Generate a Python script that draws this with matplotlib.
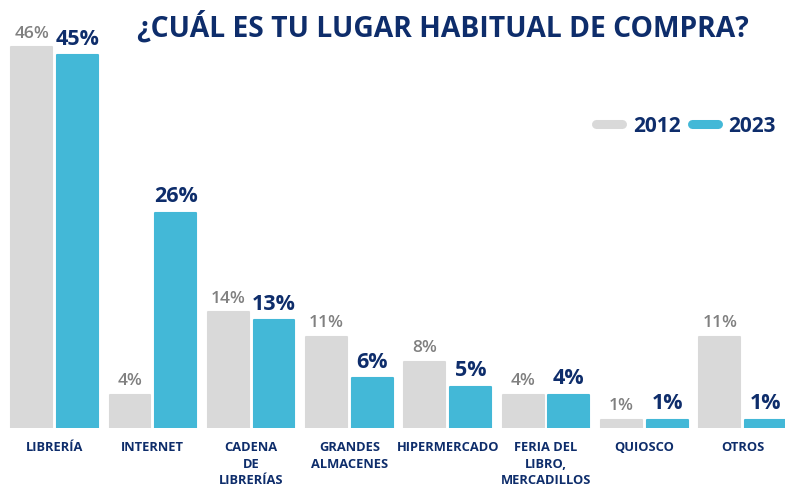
import numpy as np
import matplotlib.pyplot as plt
import matplotlib.transforms as mtransforms
from matplotlib.lines import Line2D

plt.rcParams['font.family'] = ['Open Sans', 'DejaVu Sans']

categories = ['LIBRERÍA', 'INTERNET', 'CADENA\nDE\nLIBRERÍAS', 'GRANDES\nALMACENES',
              'HIPERMERCADO', 'FERIA DEL\nLIBRO,\nMERCADILLOS', 'QUIOSCO', 'OTROS']
vals_2012 = [46, 4, 14, 11, 8, 4, 1, 11]
vals_2023 = [45, 26, 13, 6, 5, 4, 1, 1]

navy = '#0e2d6b'
grey = '#d9d9d9'
blue = '#43b8d7'
grey_txt = '#808080'

fig = plt.figure(figsize=(7.85, 4.91), dpi=100)
ax = fig.add_axes([0, 63 / 491, 1, 428 / 491])

x = np.arange(len(categories))
w = 0.415
off = 0.232
b1 = ax.bar(x - off, vals_2012, w, color=grey, edgecolor=grey, linewidth=1.5, joinstyle='round')
b2 = ax.bar(x + off, vals_2023, w, color=blue, edgecolor=blue, linewidth=1.5, joinstyle='round')

for rect, v in zip(b1, vals_2012):
    ax.annotate(f'{v}%', (rect.get_x() + rect.get_width() / 2, v), xytext=(0, 4),
                textcoords='offset points', ha='center', va='bottom',
                fontsize=12.5, fontweight='semibold', color=grey_txt)
for rect, v in zip(b2, vals_2023):
    ax.annotate(f'{v}%', (rect.get_x() + rect.get_width() / 2, v), xytext=(0, 4),
                textcoords='offset points', ha='center', va='bottom',
                fontsize=15.5, fontweight='bold', color=navy)

trans = mtransforms.blended_transform_factory(ax.transData, fig.transFigure)
for i, c in enumerate(categories):
    ax.text(i, 1 - 441 / 491, c, transform=trans, ha='center', va='top',
            fontsize=9.3, fontweight='bold', color=navy, linespacing=1.35)

ax.set_xlim(-54.5 / 98.3, (785 - 54.5) / 98.3)
ax.set_ylim(0, 428 / 8.28)
ax.axis('off')

fig.text(0.564, 1 - 27 / 491, '¿CUÁL ES TU LUGAR HABITUAL DE COMPRA?', ha='center', va='center',
         fontsize=20.3, fontweight='bold', color=navy)

handles = [Line2D([], [], color=grey, lw=6.5, solid_capstyle='round'),
           Line2D([], [], color=blue, lw=6.5, solid_capstyle='round')]
leg = fig.legend(handles, ['2012', '2023'], loc='center right', bbox_to_anchor=(1.012, 1 - 126 / 491),
                 ncol=2, frameon=False, handlelength=1.25, handletextpad=0.5, columnspacing=0.55,
                 prop={'size': 15, 'weight': 'bold'})
for t in leg.get_texts():
    t.set_color(navy)

fig.savefig('out.png', dpi=100)
